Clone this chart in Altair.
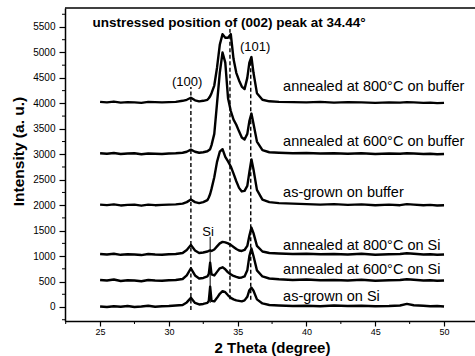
import altair as alt
import pandas as pd

# ---- data ----
TWO_THETA = [25.0, 25.5, 26.0, 26.5, 27.0, 27.5, 28.0, 28.5, 29.0, 29.5,
             30.0, 30.5, 31.0, 31.3, 31.6, 31.9, 32.2, 32.5, 32.8, 32.9,
             33.0, 33.1, 33.3, 33.5, 33.7, 33.9, 34.1, 34.3, 34.5, 34.7,
             34.9, 35.1, 35.3, 35.5, 35.7, 35.85, 36.0, 36.15, 36.4, 36.8,
             37.3, 38.0, 39.0, 40.0, 41.0, 42.0, 43.0, 44.0, 45.0, 46.0,
             46.8, 47.3, 47.8, 48.5, 49.0, 49.5, 50.0]

AS_GROWN_SI = [10, 0, 15, 5, 20, 0, 10, 25, 5, 15,
               20, 30, 40, 90, 180, 80, 50, 60, 80, 120,
               400, 120, 110, 180, 260, 310, 290, 230, 180, 150,
               130, 120, 110, 130, 200, 330, 380, 320, 150, 70,
               40, 30, 20, 25, 15, 30, 20, 25, 15, 20,
               30, 60, 35, 25, 15, 20, 10]

ANNEALED_600_SI = [530, 520, 540, 510, 525, 520, 505, 530, 520, 515,
                   525, 530, 550, 620, 760, 620, 560, 570, 600, 650,
                   870, 640, 620, 690, 760, 780, 740, 680, 640, 610,
                   590, 575, 580, 600, 720, 1000, 1150, 1000, 720, 600,
                   560, 545, 530, 540, 525, 530, 520, 535, 515, 525,
                   530, 545, 535, 520, 525, 515, 520]

ANNEALED_800_SI = [1040, 1030, 1045, 1025, 1035, 1030, 1020, 1040, 1030, 1025,
                   1035, 1040, 1060, 1120, 1220, 1110, 1060, 1070, 1090, 1100,
                   1110, 1100, 1130, 1190, 1250, 1280, 1270, 1250, 1220, 1180,
                   1140, 1110, 1100, 1120, 1200, 1400, 1560, 1450, 1200, 1090,
                   1060, 1050, 1040, 1045, 1035, 1040, 1030, 1045, 1025, 1035,
                   1040, 1055, 1045, 1030, 1035, 1025, 1030]

AS_GROWN_BUFFER = [2010, 2000, 2015, 1995, 2005, 2010, 1990, 2010, 2000, 2005,
                   2010, 2015, 2030, 2060, 2110, 2060, 2040, 2060, 2100, 2150,
                   2220, 2320, 2550, 2850, 3050, 3100, 2950, 2860, 2760, 2620,
                   2470, 2340, 2270, 2280, 2380, 2650, 2900, 2700, 2300, 2110,
                   2060, 2040, 2030, 2020, 2010, 2020, 2005, 2015, 2000, 2010,
                   2000, 2020, 2010, 2000, 2005, 1995, 2000]

ANNEALED_600_BUFFER = [3020, 3010, 3025, 3005, 3015, 3020, 3000, 3015, 3010, 3005,
                       3015, 3020, 3030, 3050, 3090, 3050, 3030, 3040, 3060, 3080,
                       3100, 3180, 3400, 4000, 4600, 5000, 4800, 4100, 3850, 3680,
                       3580, 3450, 3330, 3290, 3400, 3650, 3800, 3600, 3250, 3080,
                       3040, 3030, 3020, 3025, 3015, 3020, 3010, 3020, 3005, 3015,
                       3010, 3020, 3015, 3005, 3010, 3000, 3005]

ANNEALED_800_BUFFER = [4030, 4020, 4035, 4015, 4025, 4020, 4010, 4030, 4025, 4020,
                       4025, 4030, 4050, 4070, 4110, 4060, 4040, 4050, 4070, 4100,
                       4140, 4200, 4350, 4700, 5150, 5360, 5290, 5290, 5360, 4870,
                       4600, 4450, 4330, 4280, 4500, 4800, 4910, 4600, 4200, 4070,
                       4040, 4030, 4025, 4020, 4030, 4015, 4025, 4020, 4010, 4020,
                       4015, 4025, 4020, 4010, 4015, 4005, 4010]

SERIES = {
    "as-grown on Si": AS_GROWN_SI,
    "annealed at 600°C on Si": ANNEALED_600_SI,
    "annealed at 800°C on Si": ANNEALED_800_SI,
    "as-grown on buffer": AS_GROWN_BUFFER,
    "annealed at 600°C on buffer": ANNEALED_600_BUFFER,
    "annealed at 800°C on buffer": ANNEALED_800_BUFFER,
}

LABEL_X = [38.3, 38.3, 38.3, 38.3, 38.3, 38.3]
LABEL_Y = [200, 730, 1200, 2230, 3235, 4320]

PEAK_NAMES = ["(100)", "(002)", "(101)"]
PEAK_X = [31.6, 34.44, 35.95]
PEAK_TOP = [4320, 5460, 4900]
PEAK_BOTTOM = [-60, 150, 140]

SI_X = [33.0]
SI_TOP = [1380]
SI_BOTTOM = [80]

ANNOT_TEXT = ["(100)", "(101)", "Si"]
ANNOT_X = [31.33, 36.27, 32.85]
ANNOT_Y = [4420, 5110, 1480]

TITLE_TEXT = ["unstressed position of (002) peak at 34.44°"]
TITLE_X = [34.38]
TITLE_Y = [5580]

Y_TICKS = list(range(0, 5501, 500))
Y_MINOR = [-250] + [v + 250 for v in range(0, 5501, 500)]
X_TICKS = [25, 30, 35, 40, 45, 50]
X_MINOR = [22.5, 27.5, 32.5, 37.5, 42.5, 47.5]

FONT = "Liberation Sans"

# ---- tables ----
rows = []
for name, vals in SERIES.items():
    for xv, yv in zip(TWO_THETA, vals):
        rows.append({"x": xv, "y": yv, "series": name})
df = pd.DataFrame(rows)

labels_df = pd.DataFrame({"x": LABEL_X, "y": LABEL_Y, "text": list(SERIES.keys())})
peaks_df = pd.DataFrame({"name": PEAK_NAMES, "x": PEAK_X, "y": PEAK_BOTTOM, "y2": PEAK_TOP})
si_df = pd.DataFrame({"x": SI_X, "y": SI_BOTTOM, "y2": SI_TOP})
annot_df = pd.DataFrame({"x": ANNOT_X, "y": ANNOT_Y, "text": ANNOT_TEXT})
title_df = pd.DataFrame({"x": TITLE_X, "y": TITLE_Y, "text": TITLE_TEXT})
ymin_df = pd.DataFrame({"y": Y_MINOR})
xmin_df = pd.DataFrame({"x": X_MINOR})

W, H = 410, 313
x_scale = alt.Scale(domain=[22.45, 52.25], nice=False, zero=False)
y_scale = alt.Scale(domain=[-275, 5873], nice=False, zero=False)

x_axis = alt.Axis(values=X_TICKS, title="2 Theta (degree)", format="d",
                  tickSize=5, labelPadding=1, labelFontSize=9,
                  titleFontSize=15, titleFontWeight="bold",
                  titleX=207, titleY=31, titleAlign="center", titleBaseline="alphabetic")
y_axis = alt.Axis(values=Y_TICKS, title="Intensity (a. u.)", format="d",
                  tickSize=6, labelPadding=4, labelFontSize=10,
                  titleFontSize=15.5, titleFontWeight="bold",
                  titleX=-47, titleY=143, titleAlign="center", titleBaseline="middle")

X = alt.X("x:Q", scale=x_scale, axis=x_axis)
Y = alt.Y("y:Q", scale=y_scale, axis=y_axis)

lines = alt.Chart(df).mark_line(color="black", strokeWidth=2.4, strokeJoin="round").encode(
    x=X, y=Y, detail="series:N",
)

peak_rules = alt.Chart(peaks_df).mark_rule(color="black", strokeWidth=1.4, strokeDash=[4, 2.5]).encode(
    x=X, y=Y, y2="y2:Q",
)

si_rule = alt.Chart(si_df).mark_rule(color="black", strokeWidth=1).encode(
    x=X, y=Y, y2="y2:Q",
)

series_labels = alt.Chart(labels_df).mark_text(
    align="left", baseline="middle", font=FONT, fontSize=14.5, color="black"
).encode(x=X, y=Y, text="text:N")

annots = alt.Chart(annot_df).mark_text(
    align="center", baseline="middle", font=FONT, fontSize=13, color="black"
).encode(x=X, y=Y, text="text:N")

top_title = alt.Chart(title_df).mark_text(
    align="center", baseline="middle", font=FONT, fontSize=13.5, fontWeight="bold", color="black"
).encode(x=X, y=Y, text="text:N")

y_minor = alt.Chart(ymin_df).mark_rule(color="black", strokeWidth=1).encode(
    y=Y, x=alt.value(-3), x2=alt.value(0),
)
x_minor = alt.Chart(xmin_df).mark_rule(color="black", strokeWidth=1).encode(
    x=X, y=alt.value(H), y2=alt.value(H + 3),
)
# top frame line (the right edge of the frame is outside the reference picture)
top_frame = alt.Chart(title_df).mark_rule(color="black", strokeWidth=1.5).encode(
    x=alt.value(0), x2=alt.value(W), y=alt.value(0),
)

chart = alt.layer(lines, peak_rules, si_rule, series_labels, annots, top_title,
                  y_minor, x_minor, top_frame).properties(
    width=W, height=H,
    padding={"left": 65, "top": 8, "right": 0, "bottom": 35},
    autosize=alt.AutoSizeParams(type="none"),
    background="white",
).configure_view(
    stroke=None,
).configure_axis(
    labelFont=FONT, titleFont=FONT, labelColor="black", titleColor="black",
    domainColor="black", tickColor="black", domainWidth=1.5, tickWidth=1.2, grid=False,
)

chart.save("out.html", embed_options={"renderer": "svg", "actions": False})
